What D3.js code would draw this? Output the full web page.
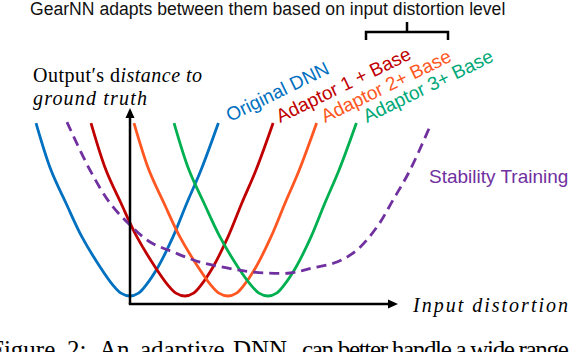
<!DOCTYPE html>
<html><head><meta charset="utf-8">
<script src="https://cdn.jsdelivr.net/npm/d3@7"></script>
<style>html,body{margin:0;padding:0;background:#fff;overflow:hidden}</style>
</head><body>
<script>
// ---- data (distortion units on x, distance units on y) ----
const curveNames = ["Original DNN", "Adaptor 1 + Base", "Adaptor 2+ Base", "Adaptor 3+ Base"];
const blueX   = [-35.2,-29.6,-24.0,-18.0,-11.2,-6.4,-3.4,0,3.2,6.0,10.5,16.1,21.3,26.6,33.1];
const redX    = [-14.6,-9.0,-3.4,2.6,9.4,14.2,17.2,20.6,23.8,26.6,31.1,36.7,41.9,47.2,53.6];
const orangeX = [1.5,7.1,12.7,18.7,25.5,30.3,33.3,36.7,39.9,42.7,47.2,52.8,58.1,63.4,69.9];
const greenX  = [16.5,22.1,27.7,33.7,40.4,45.3,48.3,51.7,54.9,57.7,62.2,67.8,73.0,78.3,84.8];
const uY      = [92.8,68.7,51.8,34.4,19.0,9.7,5.6,4.1,5.6,9.7,19.0,34.4,51.8,68.7,92.8];
const stabX   = [-23.6,-15.0,-7.5,0,7.5,16.1,26.2,36.3,46.1,59.9,68.5,77.5,85.0,92.5,98.5,104.9,112.4];
const stabY   = [93.3,68.7,51.8,40.5,31.8,26.7,21.5,18.5,16.4,15.9,18.5,21.5,27.7,39.5,53.3,68.7,91.3];
const titleText = "GearNN adapts between them based on input distortion level";
const yLabel1a = "Output′s d", yLabel1b = "istance to", yLabel2 = "ground truth";
const xLabel = "Input distortion";
const stabName = "Stability Training";
const captionHead = ["Figure", "2:", "An", "adaptive", "DNN"];
const captionTail = "can better handle a wide range of";

const W = 570, H = 352;
const svg = d3.select("body").append("svg").attr("width", W).attr("height", H);

const x = d3.scaleLinear().domain([0, 100]).range([130, 397]);
const y = d3.scaleLinear().domain([0, 100]).range([304, 109]);

const line = d3.line().x(d => x(d[0])).y(d => y(d[1])).curve(d3.curveCatmullRom.alpha(0.5));

const series = [
  {xs: blueX,   c: "#0070C0"},
  {xs: redX,    c: "#C00000"},
  {xs: orangeX, c: "#FF5722"},
  {xs: greenX,  c: "#00B050"}
];
series.forEach(s => {
  svg.append("path").datum(s.xs.map((v, i) => [v, uY[i]]))
    .attr("d", line).attr("fill", "none").attr("stroke", s.c).attr("stroke-width", 2.8);
});
svg.append("path").datum(stabX.map((v, i) => [v, stabY[i]]))
  .attr("d", line).attr("fill", "none").attr("stroke", "#7030A0")
  .attr("stroke-width", 2.8).attr("stroke-dasharray", "10,6");

// axes
svg.append("line").attr("x1", x(0)).attr("x2", x(0)).attr("y1", y(0)).attr("y2", y(100) + 8)
  .attr("stroke", "#000").attr("stroke-width", 2.5);
svg.append("line").attr("x1", x(0) - 1.2).attr("x2", x(100) - 8).attr("y1", y(0)).attr("y2", y(0))
  .attr("stroke", "#000").attr("stroke-width", 2.5);
svg.append("path").attr("d", `M${x(0)},${y(100) - 1} l-4.5,10 l9,0 z`).attr("fill", "#000");
svg.append("path").attr("d", `M${x(100) + 1},${y(0)} l-10,-4.5 l0,9 z`).attr("fill", "#000");

// title & bracket
svg.append("text").attr("x", 30).attr("y", 15).attr("font-family", "Liberation Sans, Arial")
  .attr("font-size", 17.6).attr("fill", "#111").text(titleText);
svg.append("path").attr("d", "M366,40 V32 H448 V40 M407,32 V22")
  .attr("fill", "none").attr("stroke", "#000").attr("stroke-width", 2.5);

// rotated labels
const labels = [
  {t: curveNames[0], x: 230, y: 122, c: "#0070C0"},
  {t: curveNames[1], x: 280, y: 123, c: "#C00000"},
  {t: curveNames[2], x: 325, y: 123, c: "#FF5722"},
  {t: curveNames[3], x: 367, y: 123, c: "#00A878"}
];
labels.forEach(l => {
  svg.append("text").attr("transform", `translate(${l.x},${l.y}) rotate(-26)`)
    .attr("font-family", "Liberation Sans, Arial").attr("font-size", 19)
    .attr("fill", l.c).text(l.t);
});
svg.append("text").attr("x", 429).attr("y", 183).attr("font-family", "Liberation Sans, Arial")
  .attr("font-size", 19).attr("fill", "#7030A0").text(stabName);

// axis titles
const yl = svg.append("text").attr("x", 33).attr("y", 82).attr("font-family", "Liberation Serif, serif")
  .attr("font-size", 20).attr("fill", "#000").attr("textLength", 169).attr("lengthAdjust", "spacing");
yl.append("tspan").text(yLabel1a);
yl.append("tspan").attr("font-style", "italic").text(yLabel1b);
svg.append("text").attr("x", 33).attr("y", 105).attr("font-family", "Liberation Serif, serif")
  .attr("font-size", 20).attr("font-style", "italic").attr("textLength", 114).attr("lengthAdjust", "spacing")
  .text(yLabel2);
svg.append("text").attr("x", 413).attr("y", 312).attr("font-family", "Liberation Serif, serif")
  .attr("font-size", 20).attr("font-style", "italic").attr("textLength", 155).attr("lengthAdjust", "spacing")
  .text(xLabel);

// caption (mostly cut off by the bottom edge, as in the reference)
const capX = [-10, 67, 99, 140, 233];
const cap = svg.append("text").attr("y", 358).attr("font-family", "Liberation Serif, serif")
  .attr("font-size", 25).attr("fill", "#000");
captionHead.forEach((w, i) => cap.append("tspan").attr("x", capX[i]).text(w));
svg.append("text").attr("x", 302).attr("y", 358).attr("font-family", "Liberation Serif, serif")
  .attr("font-size", 25).attr("textLength", 290).attr("lengthAdjust", "spacing").text(captionTail);
</script>
</body></html>
